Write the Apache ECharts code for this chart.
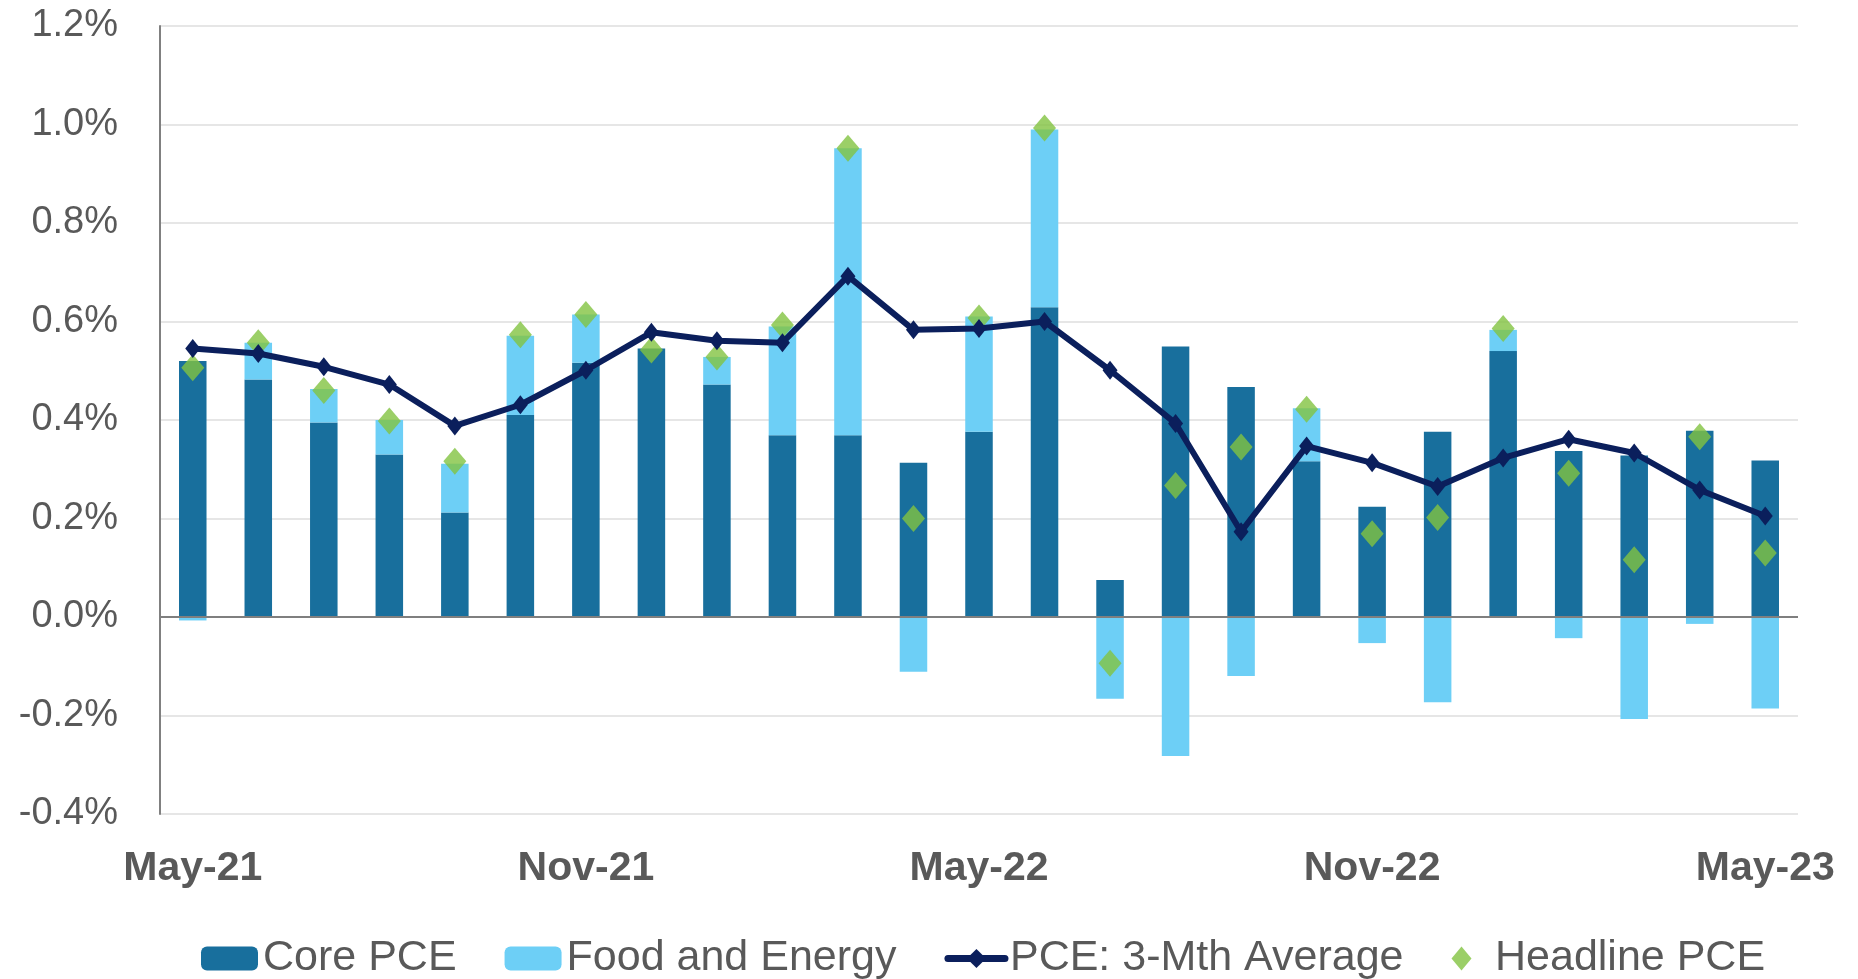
<!DOCTYPE html>
<html lang="en" style="height: 100%">
<head>
  <meta charset="utf-8">
</head>
<body style="height: 100%; margin: 0; background: #fff">
  <div id="container" style="height: 100%"></div>

  <script type="text/javascript" src="https://cdn.jsdelivr.net/npm/echarts@6/dist/echarts.min.js"></script>

  <script type="text/javascript">
    // monthly % change, May-21 .. May-23
    var months = ['May-21', 'Jun-21', 'Jul-21', 'Aug-21', 'Sep-21', 'Oct-21', 'Nov-21', 'Dec-21',
      'Jan-22', 'Feb-22', 'Mar-22', 'Apr-22', 'May-22', 'Jun-22', 'Jul-22', 'Aug-22', 'Sep-22',
      'Oct-22', 'Nov-22', 'Dec-22', 'Jan-23', 'Feb-23', 'Mar-23', 'Apr-23', 'May-23'];

    var corePCE = [0.52, 0.482, 0.395, 0.33, 0.212, 0.41, 0.516, 0.545, 0.472, 0.369, 0.369, 0.313,
      0.376, 0.629, 0.075, 0.549, 0.467, 0.316, 0.224, 0.376, 0.54, 0.337, 0.328, 0.378, 0.318];

    var foodEnergy = [-0.007, 0.075, 0.068, 0.07, 0.099, 0.161, 0.098, 0, 0.056, 0.221, 0.583, -0.111,
      0.234, 0.361, -0.166, -0.282, -0.12, 0.108, -0.053, -0.173, 0.043, -0.043, -0.207, -0.014, -0.186];

    var avg3m = [0.545, 0.535, 0.508, 0.472, 0.388, 0.431, 0.501, 0.578, 0.561, 0.557, 0.692, 0.583,
      0.586, 0.6, 0.501, 0.393, 0.173, 0.347, 0.313, 0.265, 0.323, 0.361, 0.333, 0.258, 0.205];

    var headline = [0.506, 0.557, 0.46, 0.398, 0.316, 0.573, 0.614, 0.542, 0.528, 0.593, 0.952, 0.2,
      0.607, 0.993, -0.094, 0.267, 0.345, 0.422, 0.169, 0.202, 0.586, 0.292, 0.116, 0.366, 0.13];

    var dom = document.getElementById('container');
    var myChart = echarts.init(dom, null, { renderer: 'canvas' });

    var font = 'Liberation Sans, Arial, sans-serif';
    var grey = '#595959';
    var navy = '#0b1f5c';
    var green = '#82c341';
    var diamond = 'path://M5,0 L10,6 L5,12 L0,6 Z';

    var option = {
      animation: false,
      textStyle: { fontFamily: font },
      grid: { left: 160, right: 60, top: 26, bottom: 165 },
      legend: {
        left: 196,
        top: 932,
        itemWidth: 57,
        itemHeight: 24,
        itemGap: 48,
        textStyle: { fontSize: 43, color: grey, fontFamily: font },
        data: [
          'Core PCE',
          'Food and Energy',
          { name: 'PCE: 3-Mth Average', lineStyle: { width: 7, cap: 'round' } },
          { name: 'Headline PCE', icon: diamond }
        ]
      },
      xAxis: {
        type: 'category',
        data: months,
        axisLine: { show: false, onZero: false },
        axisTick: { show: false },
        axisLabel: {
          interval: 5,
          margin: 34,
          fontSize: 41,
          fontWeight: 'bold',
          color: grey,
          fontFamily: font
        }
      },
      yAxis: {
        type: 'value',
        min: -0.4,
        max: 1.2,
        interval: 0.2,
        axisLine: { show: true, lineStyle: { color: '#808080', width: 2 } },
        axisTick: { show: false },
        axisLabel: {
          margin: 42,
          fontSize: 38,
          color: grey,
          fontFamily: font,
          formatter: function (v) { return v.toFixed(1) + '%'; }
        },
        splitLine: { lineStyle: { color: '#e6e6e6', width: 2 } }
      },
      series: [
        {
          name: 'Core PCE',
          type: 'bar',
          stack: 'pce',
          barWidth: '42%',
          itemStyle: { color: '#186f9d' },
          data: corePCE,
          markLine: {
            silent: true,
            symbol: 'none',
            label: { show: false },
            lineStyle: { color: '#7f7f7f', width: 2, type: 'solid' },
            data: [{ yAxis: 0 }]
          }
        },
        {
          name: 'Food and Energy',
          type: 'bar',
          stack: 'pce',
          itemStyle: { color: '#6dcff6' },
          data: foodEnergy
        },
        {
          name: 'Headline PCE',
          type: 'scatter',
          symbol: 'diamond',
          symbolSize: [23, 27],
          itemStyle: { color: green },
          z: 3,
          data: headline
        },
        {
          name: 'PCE: 3-Mth Average',
          type: 'line',
          symbol: 'diamond',
          symbolSize: [15, 19],
          showAllSymbol: true,
          lineStyle: { color: navy, width: 6 },
          itemStyle: { color: navy },
          z: 4,
          data: avg3m
        }
      ]
    };

    myChart.setOption(option);
    window.addEventListener('resize', myChart.resize);
  </script>
</body>
</html>
